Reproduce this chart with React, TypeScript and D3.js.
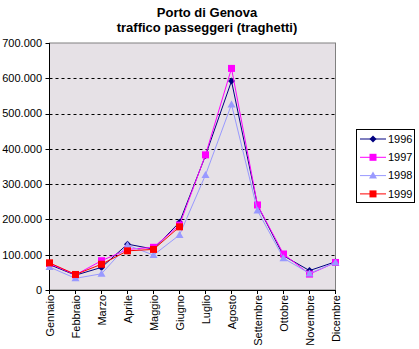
import React from "react";
import * as d3 from "d3";

const months = ["Gennaio","Febbraio","Marzo","Aprile","Maggio","Giugno","Luglio","Agosto","Settembre","Ottobre","Novembre","Dicembre"];
const s1996 = [72000, 42000, 64000, 130000, 116000, 192000, 381000, 592000, 240000, 97000, 55000, 80000];
const s1997 = [75000, 43000, 83000, 115000, 121000, 184000, 383000, 628000, 241000, 102000, 45000, 78000];
const s1998 = [65000, 33000, 46000, 127000, 99000, 156000, 326000, 526000, 225000, 90000, 47000, 78000];
const s1999 = [77000, 44000, 73000, 111000, 115000, 179000];
const yTicks = [0, 100000, 200000, 300000, 400000, 500000, 600000, 700000];
const seriesNames = ["1996", "1997", "1998", "1999"];

const colors = ["#000080", "#FF00FF", "#9999FF", "#FF0000"];
const markers = ["diamond", "square", "triangle", "square"];

function Marker({ type, x, y, color, big }: { type: string; x: number; y: number; color: string; big?: boolean }) {
  if (type === "diamond") {
    return <path d={`M${x},${y - 3.5}L${x + 3.5},${y}L${x},${y + 3.5}L${x - 3.5},${y}Z`} fill={color} />;
  }
  if (type === "triangle") {
    return <path d={`M${x},${y - 4}L${x + 4},${y + 3}L${x - 4},${y + 3}Z`} fill={color} />;
  }
  const s = big ? 8 : 7;
  return <rect x={x - s / 2} y={y - s / 2} width={s} height={s} fill={color} />;
}

export default function App() {
  const W = 419, H = 349;
  const left = 49.5, right = 335.5, top = 43, bottom = 290;
  const x = d3.scalePoint<string>().domain(months).range([left, right]);
  const y = d3.scaleLinear().domain([0, 700000]).range([bottom, top]);
  const fmt = (v: number) => d3.format(",")(v).replace(/,/g, ".");
  const data = [s1996, s1997, s1998, s1999];
  const line = d3.line<number>().x((_, i) => x(months[i])!).y((d) => y(d));

  return (
    <svg width={W} height={H} style={{ position: "absolute", left: 0, top: 0 }} fontFamily="Liberation Sans, Arial, sans-serif">
      <text x={207} y={17} textAnchor="middle" fontSize={13} fontWeight="bold">Porto di Genova</text>
      <text x={207} y={32} textAnchor="middle" fontSize={13} fontWeight="bold">traffico passeggeri (traghetti)</text>
      <rect x={left} y={top} width={right - left} height={bottom - top} fill="#E6E1E6" stroke="#808080" strokeWidth={1} />
      {yTicks.filter((t) => t > 0 && t < 700000).map((t) => (
        <line key={t} x1={left} x2={right} y1={Math.round(y(t)) + 0.5} y2={Math.round(y(t)) + 0.5} stroke="#000" strokeDasharray="3,3" />
      ))}
      <line x1={left} x2={left} y1={top} y2={bottom} stroke="#000" />
      <line x1={left} x2={right} y1={bottom + 0.5} y2={bottom + 0.5} stroke="#000" />
      {yTicks.map((t) => (
        <g key={t}>
          <line x1={left - 4} x2={left} y1={Math.round(y(t)) + 0.5} y2={Math.round(y(t)) + 0.5} stroke="#000" />
          <text x={42} y={y(t)} dy="0.35em" textAnchor="end" fontSize={11}>{fmt(t)}</text>
        </g>
      ))}
      {months.map((m) => (
        <g key={m}>
          <line x1={x(m)!} x2={x(m)!} y1={bottom} y2={bottom + 4} stroke="#000" />
          <text transform={`translate(${x(m)! + 0.5},${bottom + 5}) rotate(-90)`} dy="0.35em" textAnchor="end" fontSize={11}>{m}</text>
        </g>
      ))}
      {data.map((s, si) => (
        <g key={si}>
          <path d={line(s)!} fill="none" stroke={colors[si]} strokeWidth={1} />
          {s.map((v, i) => (
            <Marker key={i} type={markers[si]} x={x(months[i])!} y={y(v)} color={colors[si]} />
          ))}
        </g>
      ))}
      <rect x={356.5} y={129.5} width={58} height={73} fill="#fff" stroke="#000" />
      {seriesNames.map((n, i) => {
        const ly = 139 + i * 18.3;
        return (
          <g key={n}>
            <line x1={360} x2={386} y1={ly} y2={ly} stroke={colors[i]} />
            <Marker type={markers[i]} x={373} y={ly} color={colors[i]} />
            <text x={388} y={ly} dy="0.35em" fontSize={11}>{n}</text>
          </g>
        );
      })}
    </svg>
  );
}
